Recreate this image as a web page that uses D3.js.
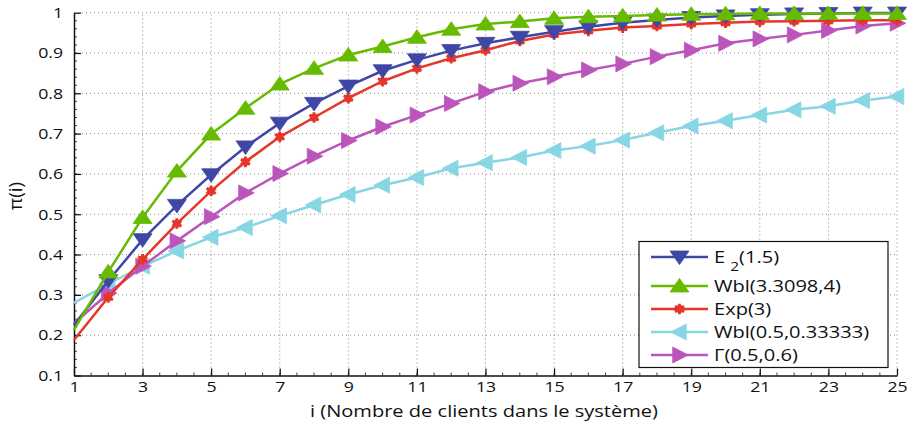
<!DOCTYPE html>
<html><head><meta charset="utf-8">
<script src="https://cdn.jsdelivr.net/npm/d3@7"></script>
<style>body{margin:0;background:#fff}svg{display:block}text{font-family:"Open Sans",sans-serif;fill:#111}</style>
</head><body><svg id="c" width="909" height="427"></svg>
<script>
const xs = d3.range(1, 26);
const xTicks = [1,3,5,7,9,11,13,15,17,19,21,23,25];
const yTicks = [0.1,0.2,0.3,0.4,0.5,0.6,0.7,0.8,0.9,1];
const e2 = [0.225,0.335,0.437,0.522,0.598,0.667,0.726,0.775,0.818,0.856,0.883,0.906,0.924,0.939,0.953,0.965,0.975,0.982,0.988,0.992,0.995,0.997,0.998,0.999,0.999];
const wbl1 = [0.213,0.357,0.492,0.607,0.699,0.763,0.823,0.862,0.895,0.916,0.939,0.959,0.972,0.978,0.986,0.990,0.992,0.994,0.996,0.997,0.998,0.998,0.998,0.998,0.998];
const expo = [0.188,0.294,0.388,0.477,0.558,0.630,0.692,0.740,0.788,0.830,0.862,0.887,0.907,0.930,0.946,0.955,0.963,0.967,0.972,0.975,0.978,0.979,0.980,0.981,0.981];
const wbl2 = [0.280,0.327,0.371,0.409,0.443,0.467,0.496,0.523,0.549,0.572,0.591,0.614,0.628,0.641,0.658,0.669,0.684,0.702,0.719,0.732,0.746,0.759,0.768,0.782,0.792];
const gam = [0.229,0.304,0.371,0.434,0.494,0.553,0.601,0.644,0.683,0.717,0.746,0.775,0.804,0.825,0.841,0.858,0.873,0.891,0.907,0.924,0.935,0.945,0.956,0.967,0.974];
const seriesNames = ["E2","Wbl(3.3098,4)","Exp(3)","Wbl(0.5,0.33333)","Γ(0.5,0.6)"];
const seriesColors = ["#3F47A6","#66BB00","#E6362A","#88D5E3","#BB55BB"];
const seriesMarkers = ["down","up","star","left","right"];
const series = [e2, wbl1, expo, wbl2, gam].map((v,i)=>({name:seriesNames[i],color:seriesColors[i],marker:seriesMarkers[i],values:v}));
const drawOrder = [3,4,2,0,1];

const svg = d3.select("#c");
const L=74, R=897, T=12.7, B=375.5;
const x = d3.scaleLinear().domain([1,25]).range([L,R]);
const y = d3.scaleLinear().domain([0.1,1]).range([B,T]);
const SX = 1.18; // horizontal stretch of the reference's text

// grid
const g = svg.append("g");
g.selectAll(".gx").data(xTicks.slice(1)).join("line")
  .attr("x1",d=>x(d)).attr("x2",d=>x(d)).attr("y1",B).attr("y2",T)
  .attr("stroke","#888").attr("stroke-width",1).attr("stroke-dasharray","1,3");
g.selectAll(".gy").data(yTicks.slice(1)).join("line")
  .attr("y1",d=>y(d)).attr("y2",d=>y(d)).attr("x1",L).attr("x2",R)
  .attr("stroke","#888").attr("stroke-width",1).attr("stroke-dasharray","1,3");

// axes
const xa = svg.append("g").attr("transform",`translate(0,${B})`)
  .call(d3.axisBottom(x).tickValues(xTicks).tickFormat(d3.format("d")).tickSizeInner(-7).tickSizeOuter(0).tickPadding(6));
const ya = svg.append("g").attr("transform",`translate(${L},0)`)
  .call(d3.axisLeft(y).tickValues(yTicks).tickFormat(d=>d===1?"1":d3.format(".1f")(d)).tickSizeInner(-7).tickSizeOuter(0).tickPadding(11));
[xa,ya].forEach(a=>{a.select(".domain").attr("stroke","#111").attr("stroke-width",1.5);
  a.selectAll(".tick line").attr("stroke","#111").attr("stroke-width",1.2);
  a.selectAll("text").style("font-size","15px").style("font-family","'Open Sans',sans-serif").attr("fill","#111");});
xa.selectAll(".tick text").attr("transform",`scale(${SX},1)`).attr("x",0);
ya.selectAll(".tick text").each(function(){const t=d3.select(this);const xx=+t.attr("x");t.attr("x",xx/SX).attr("transform",`scale(${SX},1)`);});
// minor ticks
svg.append("g").selectAll("line").data(d3.range(0.12,1.0,0.02)).join("line")
  .attr("x1",L).attr("x2",L+3).attr("y1",d=>y(d)).attr("y2",d=>y(d)).attr("stroke","#111").attr("stroke-width",0.8);
svg.append("g").selectAll("line").data(d3.range(1.5,25,0.5)).join("line")
  .attr("y1",B).attr("y2",B-3).attr("x1",d=>x(d)).attr("x2",d=>x(d)).attr("stroke","#111").attr("stroke-width",0.8);

// labels
svg.append("text").attr("transform",`translate(484,417) scale(${SX},1)`).attr("text-anchor","middle").style("font-size","17px")
  .text("i (Nombre de clients dans le système)");
svg.append("text").attr("transform","translate(22,196) rotate(-90)").attr("text-anchor","middle").style("font-size","19px")
  .text("π(i)");

function marker(sel, type, color, cx, cy){
  const s=8, h=9.5;
  let pts;
  if(type==="down") pts=[[cx-h,cy-s*0.75],[cx+h,cy-s*0.75],[cx,cy+s*0.95]];
  else if(type==="up") pts=[[cx-h,cy+s*0.75],[cx+h,cy+s*0.75],[cx,cy-s*0.95]];
  else if(type==="left") pts=[[cx+s*0.85,cy-s],[cx+s*0.85,cy+s],[cx-s*1.1,cy]];
  else if(type==="right") pts=[[cx-s*0.85,cy-s],[cx-s*0.85,cy+s],[cx+s*1.1,cy]];
  if(pts){ sel.append("polygon").attr("points",pts.map(p=>p.join(",")).join(" ")).attr("fill",color).attr("stroke",color).attr("stroke-width",0.8); }
  else {
    sel.append("path").attr("d",d3.symbol(d3.symbolAsterisk,80)()).attr("transform",`translate(${cx},${cy})`)
      .attr("fill","none").attr("stroke",color).attr("stroke-width",2.8);
    sel.append("circle").attr("cx",cx).attr("cy",cy).attr("r",4).attr("fill",color);
  }
}

const line = d3.line().x((d,i)=>x(xs[i])).y(d=>y(d));
const plot = svg.append("g");
drawOrder.forEach(k=>{
  const s=series[k];
  plot.append("path").datum(s.values).attr("d",line).attr("fill","none").attr("stroke",s.color).attr("stroke-width",2.5);
  const mg=plot.append("g");
  s.values.forEach((v,i)=>{ if(i>0) marker(mg,s.marker,s.color,x(xs[i]),y(v)); });
});

// legend
const lg = svg.append("g");
lg.append("rect").attr("x",639).attr("y",241.5).attr("width",249).attr("height",126).attr("fill","#fff").attr("stroke","#111").attr("stroke-width",1.2);
const ly=[257,286,309,332,355];
series.forEach((s,i)=>{
  lg.append("line").attr("x1",651).attr("x2",708).attr("y1",ly[i]).attr("y2",ly[i]).attr("stroke",s.color).attr("stroke-width",2.5);
  marker(lg,s.marker,s.color,679.5,ly[i]);
  const t=lg.append("text").attr("transform",`translate(714,${ly[i]+6}) scale(${SX},1)`).style("font-size","17px");
  if(i===0){ t.append("tspan").text("E "); t.append("tspan").attr("dy",8).style("font-size","13px").text("2");
    t.append("tspan").attr("dy",-8).text("(1.5)"); }
  else t.text(s.name);
});
</script></body></html>
